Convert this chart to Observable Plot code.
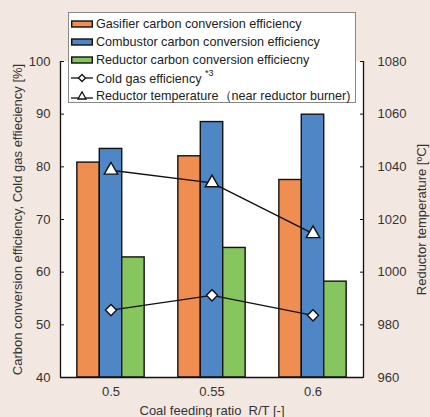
<!DOCTYPE html>
<html>
<head>
<meta charset="utf-8">
<script src="https://cdn.jsdelivr.net/npm/d3@7"></script>
<script src="https://cdn.jsdelivr.net/npm/@observablehq/plot@0.6"></script>
<style>
  html, body { margin: 0; padding: 0; background: #F2E8E1; }
  #wrap { position: relative; width: 430px; height: 417px; font-family: "Liberation Sans", Arial, sans-serif; }
  #legend { position: absolute; left: 68px; top: 12px; width: 288px; height: 91px; background: #fff; border: 1px solid #888; box-sizing: border-box; padding: 2px 0 0 2px; }
  .row { display: flex; align-items: center; height: 18px; font-size: 12.6px; color: #222; white-space: nowrap; }
  .row svg { margin-right: 3px; flex: none; }
</style>
</head>
<body>
<div id="wrap"><div id="legend"></div></div>
<script>
const categories = [0.5, 0.55, 0.6];
const tickLabels = ["0.5", "0.55", "0.6"];
const series = ["Gasifier carbon conversion efficiency", "Combustor carbon conversion efficiency", "Reductor carbon conversion efficiecny"];
const colors = ["#F08E51", "#4F86C6", "#87C55F"];
const gasifier = [80.8, 82.0, 77.5];
const combustor = [83.4, 88.5, 89.9];
const reductor = [62.8, 64.6, 58.2];
const coldGas = [52.8, 55.6, 51.8];
const reductorTemp = [1038.7, 1033.9, 1014.6];
const leftTicks = [40, 50, 60, 70, 80, 90, 100];
const rightTicks = [960, 980, 1000, 1020, 1040, 1060, 1080];

// map right-axis temperature to left-axis units (960..1080 -> 40..100)
const tToY = t => 40 + (t - 960) / 2;

const barW = 0.05 * 22.5 / 101.3;
const bars = [];
[gasifier, combustor, reductor].forEach((vals, s) => {
  vals.forEach((v, i) => bars.push({c: categories[i], s, v, off: s - 1}));
});
const cg = categories.map((c, i) => ({c, v: coldGas[i]}));
const rt = categories.map((c, i) => ({c, v: tToY(reductorTemp[i])}));

const font = "Liberation Sans, Arial, sans-serif";
const chart = Plot.plot({
  width: 430, height: 417,
  marginLeft: 60, marginRight: 67, marginTop: 61, marginBottom: 40,
  style: {background: "transparent", fontFamily: font, fontSize: "13px", color: "#333", overflow: "visible"},
  x: {type: "linear", domain: [0.475, 0.625]},
  y: {domain: [40, 100]},
  marks: [
    Plot.frame({fill: "white", stroke: null}),
    Plot.rectY(bars, {
      x1: d => d.c + (d.off - 0.5) * barW,
      x2: d => d.c + (d.off + 0.5) * barW,
      y1: 40, y2: "v",
      fill: d => colors[d.s], stroke: "#111", strokeWidth: 1.4
    }),
    Plot.line(rt, {x: "c", y: "v", stroke: "#111", strokeWidth: 1.4}),
    Plot.dot(rt, {x: "c", y: "v", symbol: "triangle", r: 5, fill: "white", stroke: "#111", strokeWidth: 1.4}),
    Plot.line(cg, {x: "c", y: "v", stroke: "#111", strokeWidth: 1.4}),
    Plot.dot(cg, {x: "c", y: "v", symbol: "diamond2", r: 5, fill: "white", stroke: "#111", strokeWidth: 1.4}),
    Plot.ruleX([0.475], {stroke: "#111", strokeWidth: 1.3}),
    Plot.ruleX([0.625], {stroke: "#111", strokeWidth: 1.3}),
    Plot.ruleY([40], {stroke: "#111", strokeWidth: 1.3}),
    Plot.axisY({ticks: leftTicks, tickSize: 4, dx: 4, text: null, label: null, stroke: "#111"}),
    Plot.axisY({ticks: leftTicks, tickSize: 0, tickPadding: 10, fontSize: 13, fill: "#333",
      label: "Carbon conversion efficiency, Cold gas effieciency [%]", labelAnchor: "center", labelArrow: "none", labelOffset: 48}),
    Plot.axisY({anchor: "right", ticks: rightTicks.map(tToY), tickSize: 4, dx: -4, text: null, label: null, stroke: "#111"}),
    Plot.axisY({anchor: "right", ticks: rightTicks.map(tToY), tickFormat: (d, i) => String(rightTicks[i]), tickSize: 0, tickPadding: 14, fontSize: 13, fill: "#333",
      label: "Reductor temperature [ºC]", labelAnchor: "center", labelArrow: "none", labelOffset: 62}),
    Plot.axisX({ticks: categories, tickFormat: (d, i) => tickLabels[i], tickSize: 0, tickPadding: 9, fontSize: 13, fill: "#333",
      label: "Coal feeding ratio  R/T [-]", labelAnchor: "center", labelArrow: "none", labelOffset: 37})
  ]
});
document.getElementById("wrap").prepend(chart);
chart.style.position = "absolute"; chart.style.left = "0"; chart.style.top = "0";

const legend = document.getElementById("legend");
series.forEach((name, i) => {
  const r = document.createElement("div"); r.className = "row";
  r.innerHTML = `<svg width="22" height="10"><rect x="0.7" y="2" width="20.6" height="6" fill="${colors[i]}" stroke="#111" stroke-width="1.4"/></svg><span>${name}</span>`;
  legend.appendChild(r);
});
const lineItems = [
  {name: "Cold gas efficiency <sup style='font-size:9px;position:relative;top:-2px'>*3</sup>", sym: "diamond"},
  {name: "Reductor temperature\uFF08near reductor burner)", sym: "triangle"}
];
lineItems.forEach(it => {
  const r = document.createElement("div"); r.className = "row";
  const m = it.sym === "diamond"
    ? `<path d="M11,1.5 L14.5,5 L11,8.5 L7.5,5 Z" fill="white" stroke="#111" stroke-width="1.3"/>`
    : `<path d="M11,0.8 L15,8 L7,8 Z" fill="white" stroke="#111" stroke-width="1.3"/>`;
  r.innerHTML = `<svg width="22" height="10"><line x1="0" x2="22" y1="${it.sym === 'diamond' ? 5 : 7}" y2="${it.sym === 'diamond' ? 5 : 7}" stroke="#111" stroke-width="1.3"/>${m}</svg><span>${it.name}</span>`;
  legend.appendChild(r);
});
</script>
</body>
</html>
